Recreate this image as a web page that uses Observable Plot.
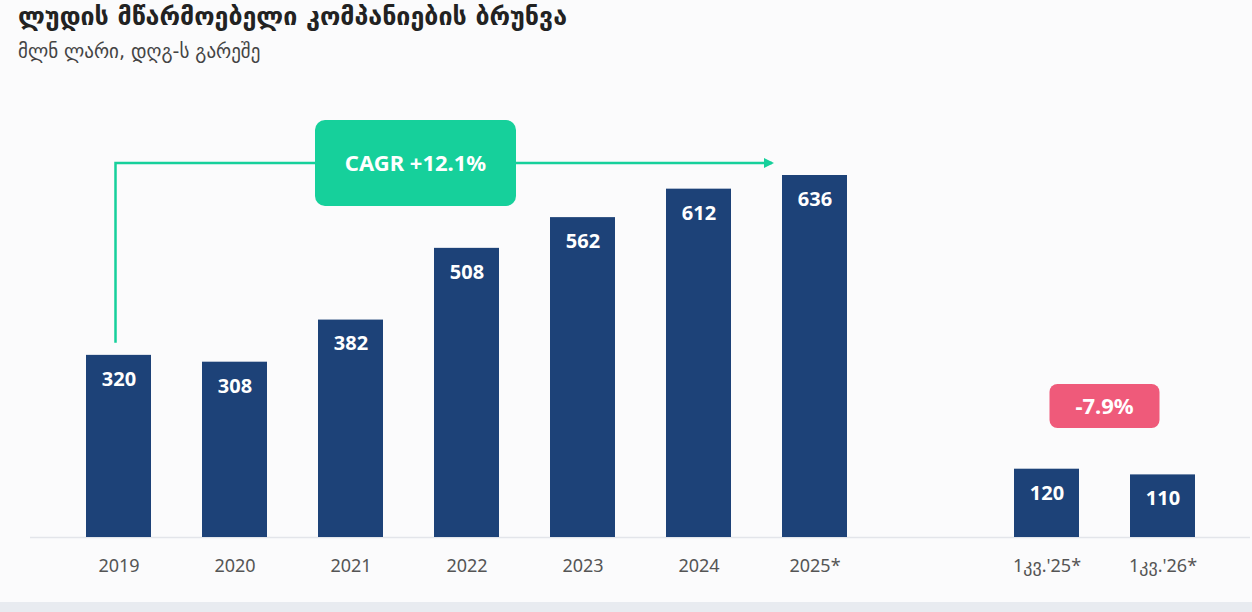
<!DOCTYPE html>
<html><head><meta charset="utf-8">
<script src="https://cdn.jsdelivr.net/npm/d3@7"></script>
<script src="https://cdn.jsdelivr.net/npm/@observablehq/plot@0.6"></script>
<style>
body{margin:0;background:#fbfbfc;width:1252px;height:612px;overflow:hidden;position:relative;font-family:"Noto Sans","DejaVu Sans",sans-serif}
#t{position:absolute;left:18px;top:2px;font-size:25px;font-weight:bold;color:#222;font-family:"DejaVu Sans",sans-serif}
#s{position:absolute;left:18px;top:40px;font-size:19px;color:#444;font-family:"DejaVu Sans",sans-serif}
#foot{position:absolute;left:0;top:602px;width:1252px;height:10px;background:#e8ebf0}
#c{position:absolute;left:0;top:0}
</style></head><body>
<div id="c"></div>
<div id="t">ლუდის მწარმოებელი კომპანიების ბრუნვა</div>
<div id="s">მლნ ლარი, დღგ-ს გარეშე</div>
<div id="foot"></div>
<script>
const categories = ["2019","2020","2021","2022","2023","2024","2025*","","1კვ.'25*","1კვ.'26*"];
const values = [320,308,382,508,562,612,636,null,120,110];
const cagrLabel = "CAGR +12.1%";
const changeLabel = "-7.9%";
const data = categories.map((c,i)=>({c,v:values[i]})).filter(d=>d.v!=null);

const chart = Plot.plot({
  width:1252,height:612,marginLeft:30,marginRight:2,marginTop:175,marginBottom:75,
  style:{background:"transparent",fontFamily:"Noto Sans, DejaVu Sans, sans-serif",overflow:"visible"},
  x:{domain:categories,padding:0.44,label:null,tickSize:0,tickPadding:22,tickFormat:d=>d},
  y:{domain:[0,636],axis:null},
  marks:[
    Plot.ruleY([0],{stroke:"#e3e5ea",strokeWidth:1.5}),
    Plot.barY(data,{x:"c",y:"v",fill:"#1d4278"}),
    Plot.text(data,{x:"c",y:"v",text:d=>String(d.v),dy:24,fill:"white",fontWeight:"bold",fontSize:20})
  ]
});
d3.select(chart).selectAll("[aria-label='x-axis tick label'] text").attr("font-size",18).attr("fill","#555");
document.getElementById("c").append(chart);
const X = chart.scale("x"), Y = chart.scale("y");
const svg = d3.select(chart);
const x0 = X.apply("2019")+X.bandwidth/2-3, y0 = Y.apply(320)-12, yl = 163;
const xe = X.apply("2025*")-10;
const g = svg.append("g");
const green="#16d09b";
g.append("path").attr("d",`M${x0},${y0}V${yl}H${xe}`).attr("fill","none").attr("stroke",green).attr("stroke-width",2.5);
g.append("path").attr("d",`M${xe+2},${yl}l-10,-5v10z`).attr("fill",green);
g.append("rect").attr("x",315).attr("y",120).attr("width",201).attr("height",86).attr("rx",10).attr("fill",green);
g.append("text").attr("x",415.5).attr("y",163).attr("dy","0.35em").attr("text-anchor","middle").attr("fill","white").attr("font-weight","bold").attr("font-size",22).text(cagrLabel);
const xm = (X.apply(categories[8])+X.apply(categories[9])+X.bandwidth)/2;
g.append("rect").attr("x",xm-55).attr("y",384).attr("width",110).attr("height",44).attr("rx",8).attr("fill","#ef5a7a");
g.append("text").attr("x",xm).attr("y",406).attr("dy","0.35em").attr("text-anchor","middle").attr("fill","white").attr("font-weight","bold").attr("font-size",22).text(changeLabel);
</script></body></html>
